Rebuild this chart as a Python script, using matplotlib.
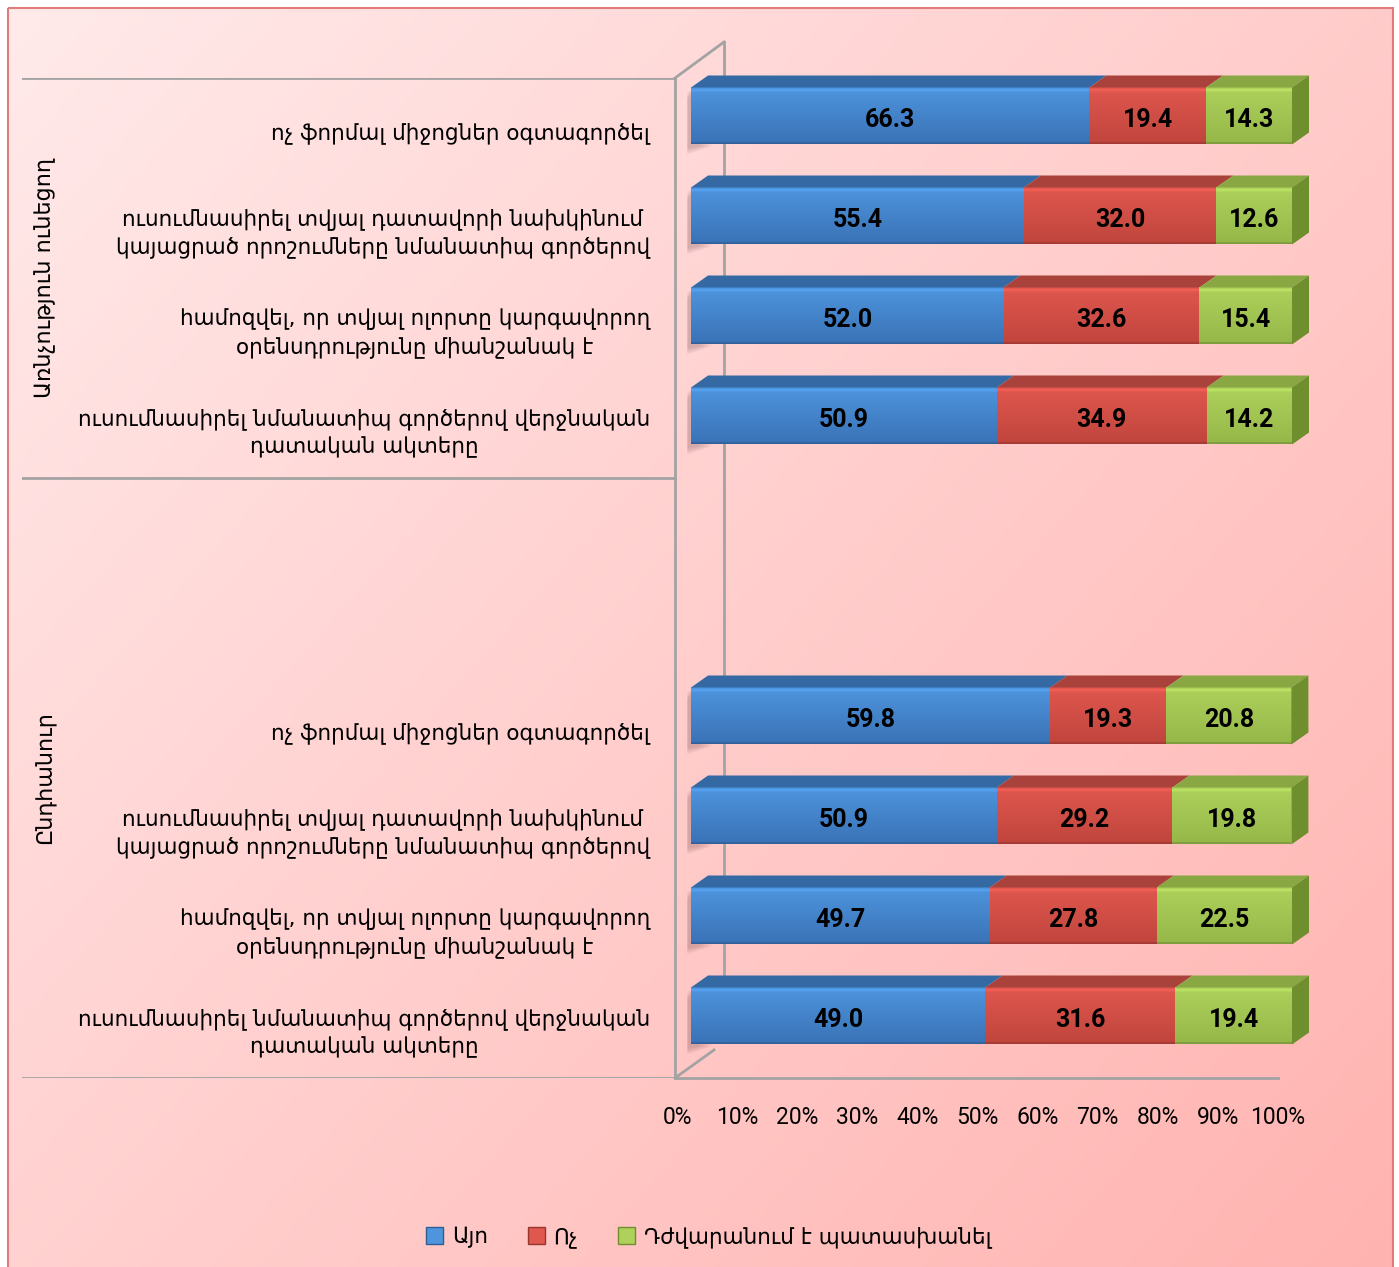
import numpy as np
import matplotlib
matplotlib.use("Agg")
import matplotlib.pyplot as plt
import matplotlib.patches as mpatches
from matplotlib.colors import to_rgb

# Survey answers, percent of respondents
categories = [
    "ոչ ֆորմալ միջոցներ օգտագործել",
    "ուսումնասիրել տվյալ դատավորի նախկինում\nկայացրած որոշումները նմանատիպ գործերով",
    "համոզվել, որ տվյալ ոլորտը կարգավորող\nօրենսդրությունը միանշանակ է",
    "ուսումնասիրել նմանատիպ գործերով վերջնական\nդատական ակտերը",
]
groups = ["Առնչություն ունեցող", "Ընդհանուր"]
answers = ["Այո", "Ոչ", "Դժվարանում է պատասխանել"]

yes_rel = [66.3, 55.4, 52.0, 50.9]
no_rel = [19.4, 32.0, 32.6, 34.9]
hard_rel = [14.3, 12.6, 15.4, 14.2]

yes_gen = [59.8, 50.9, 49.7, 49.0]
no_gen = [19.3, 29.2, 27.8, 31.6]
hard_gen = [20.8, 19.8, 22.5, 19.4]

x_ticks = [0, 10, 20, 30, 40, 50, 60, 70, 80, 90, 100]

# slot 0-3: first group, 4-5 left empty, 6-9: second group
slots_rel = [0, 1, 2, 3]
slots_gen = [6, 7, 8, 9]

# face colours: (front top, front bottom, top face, side face)
styles = [
    ("#4E95DE", "#3A72B6", "#3469A3", "#2E5E93"),
    ("#E0574E", "#C0453D", "#A9423A", "#93372F"),
    ("#AED15C", "#94B748", "#89A743", "#6F8E2E"),
]

ARM = ["DejaVu Sans"]
NUM = ["Roboto", "DejaVu Sans"]

W, H = 1399, 1267
fig = plt.figure(figsize=(W / 100, H / 100), dpi=100)


def frac(x0, y0, x1, y1):
    # pixel box -> figure fraction rect
    return [x0 / W, 1 - y1 / H, (x1 - x0) / W, (y1 - y0) / H]


# background panel with a soft diagonal gradient
ax_bg = fig.add_axes([0, 0, 1, 1], zorder=0)
ax_bg.set_xlim(0, W)
ax_bg.set_ylim(H, 0)
ax_bg.axis("off")
gx, gy = np.meshgrid(np.linspace(0, 1, 300), np.linspace(0, 1, 300))
t = np.clip(0.55 * gx + 0.45 * gy, 0, 1)[..., None]
c0 = np.array(to_rgb("#FFEAEA"))
c1 = np.array(to_rgb("#FFB3B0"))
ax_bg.imshow(c0 * (1 - t) + c1 * t, extent=(8, 1393, H + 10, 8),
             origin="upper", aspect="auto", zorder=0)
ax_bg.add_patch(mpatches.Rectangle((8, 8), 1385, H, fill=False,
                                   edgecolor="#E07C7C", linewidth=1.5, zorder=1))

# side wall of the 3-D frame
wall = dict(color="#A3A3A3", linewidth=2, zorder=2)
ax_bg.plot([675, 675], [78, 1078], **wall)
ax_bg.plot([675, 724], [78, 42], **wall)
ax_bg.plot([724, 724], [42, 1042], **wall)
ax_bg.plot([675, 714], [1078, 1050], **wall)

# category labels and group separators
ax_lab = fig.add_axes(frac(22, 78, 677, 1078), zorder=1)
ax_lab.set_xlim(22, 677)
ax_lab.set_ylim(9.5, -0.5)
ax_lab.axis("off")
for y in [-0.5, 3.5, 9.5]:
    ax_lab.axhline(y, color="#A3A3A3", linewidth=2)
for slots in (slots_rel, slots_gen):
    for s, label in zip(slots, categories):
        ax_lab.text(650, s + 0.05, label, ha="right", va="center",
                    fontsize=15.5, family=ARM, multialignment="center",
                    linespacing=1.4)
ax_lab.text(45, 1.5, groups[0], rotation=90, ha="center", va="center",
            fontsize=16, family=ARM)
ax_lab.text(45, 6.5, groups[1], rotation=90, ha="center", va="center",
            fontsize=16, family=ARM)

# floor edge with the percent scale
ax_floor = fig.add_axes(frac(677, 1077, 1278, 1078), zorder=1)
ax_floor.set_xlim(0, 100)
ax_floor.patch.set_visible(False)
for side in ("top", "left", "right"):
    ax_floor.spines[side].set_visible(False)
ax_floor.spines["bottom"].set_color("#A3A3A3")
ax_floor.spines["bottom"].set_linewidth(2)
ax_floor.set_yticks([])
ax_floor.set_xticks(x_ticks)
ax_floor.set_xticklabels([f"{v}%" for v in x_ticks], family=NUM, fontsize=16.5)
ax_floor.tick_params(axis="x", length=0, pad=20)

# bars
ax = fig.add_axes(frac(691, 66, 1292, 1066), zorder=3)
ax.set_xlim(0, 100)
ax.set_ylim(9.5, -0.5)
ax.axis("off")

bar_h = 0.57
dx = 17 / 6.01   # depth of the bars, in data units
dy = 0.12


def gradient(top, bottom):
    a = np.array(to_rgb(top))
    b = np.array(to_rgb(bottom))
    k = np.linspace(0, 1, 64)[:, None]
    g = a * (1 - k) + b * k
    g[2:5] = np.minimum(g[2:5] * 1.08, 1)
    g[-2:] *= 0.85
    return g[:, None, :]


def draw_row(slot, values):
    top_y = slot - bar_h / 2
    bot_y = slot + bar_h / 2
    # soft shadow on the wall
    for k in range(6):
        s = 1 - k * 0.12
        poly = [(-0.6, top_y + 0.12 * s), (3.4 * s, top_y - 0.14 * s),
                (3.4 * s, bot_y + 0.02), (-0.6, bot_y + 0.1 * s)]
        ax.add_patch(mpatches.Polygon(poly, closed=True, facecolor="#6E4848",
                                      edgecolor="none", alpha=0.05,
                                      zorder=1, clip_on=False))
    left = 0.0
    for i, (val, (c_top, c_bot, c_lid, c_side)) in enumerate(zip(values, styles)):
        right = left + val
        ax.imshow(gradient(c_top, c_bot), extent=(left, right, bot_y, top_y),
                  origin="upper", aspect="auto", zorder=3, clip_on=False)
        lid = [(left, top_y), (right, top_y),
               (right + dx, top_y - dy), (left + dx, top_y - dy)]
        ax.add_patch(mpatches.Polygon(lid, closed=True, facecolor=c_lid,
                                      edgecolor="none", zorder=3, clip_on=False))
        if i == len(values) - 1:
            side = [(right, top_y), (right + dx, top_y - dy),
                    (right + dx, bot_y - dy), (right, bot_y)]
            ax.add_patch(mpatches.Polygon(side, closed=True, facecolor=c_side,
                                          edgecolor="none", zorder=3,
                                          clip_on=False))
        ax.text(left + val / 2, slot + 0.04, f"{val:.1f}", ha="center",
                va="center", fontsize=18, fontweight="bold", family=NUM,
                zorder=5)
        left = right


for s, a, b, c in zip(slots_rel, yes_rel, no_rel, hard_rel):
    draw_row(s, [a, b, c])
for s, a, b, c in zip(slots_gen, yes_gen, no_gen, hard_gen):
    draw_row(s, [a, b, c])

ax.set_xlim(0, 100)
ax.set_ylim(9.5, -0.5)

# legend
handles = [mpatches.Patch(facecolor=st[0], edgecolor=st[3], label=name)
           for st, name in zip(styles, answers)]
fig.legend(handles=handles, loc="center",
           bbox_to_anchor=(0.5 + 9 / W, 1 - 1237 / H),
           ncol=3, frameon=False, handlelength=0.8,
           handleheight=0.8, handletextpad=0.4, columnspacing=1.85,
           prop={"family": ARM, "size": 15.5})

fig.savefig("out.png", dpi=100)
